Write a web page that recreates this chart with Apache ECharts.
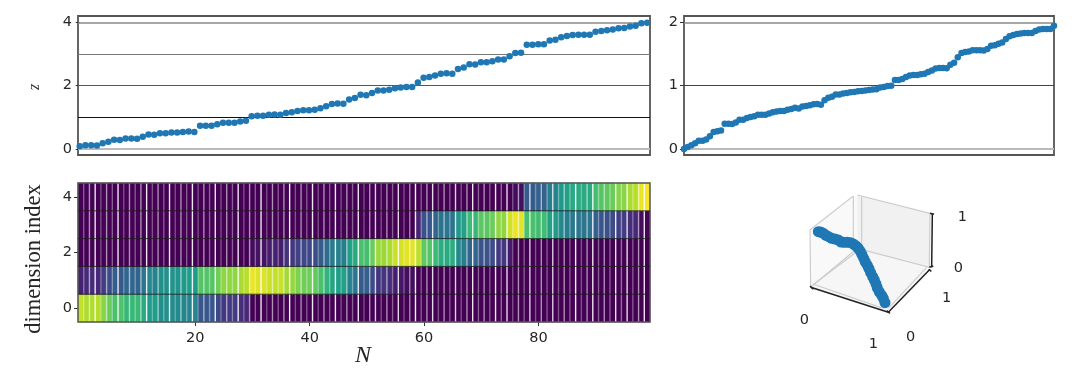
<!DOCTYPE html>
<html><head><meta charset="utf-8">
<style>html,body{margin:0;padding:0;background:#fff}#c{width:1080px;height:374px;filter:blur(0.4px)}</style>
<script src="https://cdn.jsdelivr.net/npm/echarts@6/dist/echarts.min.js"></script>
</head><body><div id="c"></div>
<script>
const zSorted=[.09,.12,.12,.11,.18,.23,.29,.28,.33,.33,.32,.39,.46,.45,.50,.50,.52,.52,.54,.55,.54,.73,.73,.73,.78,.83,.83,.83,.87,.89,
1.03,1.05,1.05,1.08,1.09,1.08,1.14,1.16,1.20,1.22,1.22,1.24,1.29,1.35,1.42,1.44,1.43,1.56,1.61,1.71,
1.70,1.77,1.85,1.85,1.87,1.92,1.94,1.96,1.96,2.10,2.25,2.27,2.32,2.38,2.39,2.38,2.53,2.57,2.68,2.67,
2.74,2.74,2.77,2.83,2.83,2.93,3.03,3.04,3.29,3.29,3.31,3.31,3.43,3.45,3.53,3.57,3.60,3.61,3.61,3.61,
3.70,3.73,3.75,3.77,3.81,3.82,3.87,3.89,3.97,3.99];
const zSecond=[0,.03,.06,.09,.13,.13,.15,.20,.27,.28,.29,.40,.40,.395,.42,.46,.46,.49,.505,.515,.54,.54,.54,.56,.58,.59,.60,.60,.62,.63,
.65,.64,.67,.68,.69,.705,.71,.70,.77,.81,.825,.86,.86,.875,.885,.895,.90,.91,.915,.925,.93,.94,.945,.97,.98,.995,1.0,1.09,1.09,1.105,
1.135,1.16,1.17,1.17,1.18,1.19,1.215,1.24,1.27,1.28,1.28,1.275,1.33,1.36,1.45,1.515,1.53,1.54,1.56,1.56,1.56,1.555,1.58,1.63,1.64,1.66,1.68,1.735,1.78,1.80,
1.815,1.825,1.83,1.83,1.83,1.865,1.885,1.895,1.895,1.895,1.945];
const levelsLeft=[0,1,2,3,4];
const levelsRight=[0,1,2];
const ticksLeft=[0,2,4];
const ticksRight=[0,1,2];
const dim0=[.91,.88,.88,.89,.82,.77,.71,.72,.67,.67,.68,.61,.54,.55,.50,.50,.48,.48,.46,.45,.46,.27,.27,.27,.22,.17,.17,.17,.13,.11,
0,0,0,0,0,0,0,0,0,0,0,0,0,0,0,0,0,0,0,0,0,0,0,0,0,0,0,0,0,0,0,0,0,0,0,0,0,0,0,0,
0,0,0,0,0,0,0,0,0,0,0,0,0,0,0,0,0,0,0,0,0,0,0,0,0,0,0,0,0,0];
const dim1=[.09,.12,.12,.11,.18,.23,.29,.28,.33,.33,.32,.39,.46,.45,.50,.50,.52,.52,.54,.55,.54,.73,.73,.73,.78,.83,.83,.83,.87,.89,
.97,.95,.95,.92,.91,.92,.86,.84,.80,.78,.78,.76,.71,.65,.58,.56,.57,.44,.39,.29,.30,.23,.15,.15,.13,.08,.06,.04,.04,
0,0,0,0,0,0,0,0,0,0,0,0,0,0,0,0,0,0,0,0,0,0,0,0,0,0,0,0,0,0,0,0,0,0,0,0,0,0,0,0,0];
const dim2=[0,0,0,0,0,0,0,0,0,0,0,0,0,0,0,0,0,0,0,0,0,0,0,0,0,0,0,0,0,0,
.03,.05,.05,.08,.09,.08,.14,.16,.20,.22,.22,.24,.29,.35,.42,.44,.43,.56,.61,.71,.70,.77,.85,.85,.87,.92,.94,.96,.96,
.90,.75,.73,.68,.62,.61,.62,.47,.43,.32,.33,.26,.26,.23,.17,.17,.07,
0,0,0,0,0,0,0,0,0,0,0,0,0,0,0,0,0,0,0,0,0,0,0,0];
const dim3=[0,0,0,0,0,0,0,0,0,0,0,0,0,0,0,0,0,0,0,0,0,0,0,0,0,0,0,0,0,0,0,0,0,0,0,0,0,0,0,0,0,0,0,0,0,0,0,0,0,0,0,0,0,0,0,0,0,0,0,
.10,.25,.27,.32,.38,.39,.38,.53,.57,.68,.67,.74,.74,.77,.83,.83,.93,.97,.96,
.71,.71,.69,.69,.57,.55,.47,.43,.40,.39,.39,.39,.30,.27,.25,.23,.19,.18,.13,.11,.03,.01];
const dim4=[0,0,0,0,0,0,0,0,0,0,0,0,0,0,0,0,0,0,0,0,0,0,0,0,0,0,0,0,0,0,0,0,0,0,0,0,0,0,0,0,0,0,0,0,0,0,0,0,0,0,0,0,0,0,0,0,0,0,0,0,0,0,0,0,0,0,0,0,0,0,0,0,0,0,0,0,
.03,.04,.29,.29,.31,.31,.43,.45,.53,.57,.60,.61,.61,.61,.70,.73,.75,.77,.81,.82,.87,.89,.97,.99];
const stripeAlpha=[.35,.55,.9,.3,.55,.35,.9,.3,.55,.35,.55,.9,.3,.55,.35,.9,.3,.55,.35,.9,
.3,.55,.35,.9,.3,.55,.35,.9,.3,.55,.35,.9,.3,.55,.35,.55,.95,.3,.55,.35,
.9,.3,.55,.35,.9,.3,.55,.35,.9,.3,.55,.8,.3,.55,.35,.85,.3,.5,.95,.35,
.55,.85,.3,.55,.35,.8,.3,.55,.9,.35,.55,.35,.9,.4,.85,.3,.55,.35,.8,.3,
.55,.35,.8,.3,.55,.35,.95,.3,.55,.9,.35,.55,.35,.9,.4,.85,.35,.55,.9];
const dims=[dim0,dim1,dim2,dim3,dim4];
const nLabels=Array.from({length:100},(_,i)=>String(i));
const dimLabels=['0','1','2','3','4'];
const viridis=['#440154','#482878','#3e4989','#31688e','#26828e','#1f9e89','#35b779','#6ece58','#b5de2b','#fde725'];
// 3D inset: projected positions (projection units)
const pathU=[145,152,160,168,176,185,195,205,213,222,232,242,250,258,265,271,276,281,286,292,297,302,308,313,318,322,328,335,340,345];
const pathV=[155,156,160,166,170,175,177,180,186,187,187,188,192,198,205,214,224,235,246,256,266,278,290,300,312,324,336,346,355,368];
const panes=[
 {c:'#f9f9f9',p:[[122,322],[262,205],[262,45],[120,150]]},
 {c:'#f1f1f1',p:[[262,205],[478,262],[480,100],[262,45]]},
 {c:'#f6f6f6',p:[[122,322],[355,397],[480,268],[262,205]]}];
const boxEdges=[[[120,150],[250,48]],[[262,45],[480,100]],[[120,150],[122,322]],[[250,48],[250,208]],[[275,50],[275,205]],
 [[262,205],[478,262]],[[122,322],[262,205]],[[132,312],[270,208]],[[340,385],[128,312]],[[355,385],[470,262]],[[480,100],[478,262]]];
const boxAxes=[[[122,322],[355,397]],[[355,397],[480,268]],[[485,262],[487,100]],[[120,318],[130,328]],[[350,392],[360,400]],[[476,268],[484,274]],[[480,100],[492,103]],[[478,262],[490,258]]];
const boxLabels=[['0',103,420],['1',310,492],['0',422,473],['1',530,355],['0',565,265],['1',577,113]];

const BLUE='#1f77b4',FONT='"DejaVu Sans"',TXT='#262626',FRAME='#555';
const lineStyles={l:{0:['#bbb',2],1:['#111',1],2:['#555',1],3:['#777',1],4:['#888',1.5]},r:{0:['#bbb',2],1:['#444',1],2:['#888',1.5]}};
function mark(levels,k){return {silent:true,symbol:'none',z:1,label:{show:false},animation:false,
 data:levels.map(v=>({yAxis:v,lineStyle:{type:'solid',color:lineStyles[k][v][0],width:lineStyles[k][v][1]}}))};}
function yAxisCommon(min,max,ticks,idx){return {type:'value',gridIndex:idx,min,max,
 axisLine:{show:false},splitLine:{show:false},
 axisTick:{show:true,length:4,lineStyle:{color:'#333'},customValues:ticks},
 axisLabel:{show:true,color:TXT,fontFamily:FONT,fontSize:14.5,margin:6,padding:[4,0,0,0],customValues:ticks}};}
const heat=[];dims.forEach((r,y)=>r.forEach((v,x)=>heat.push([x,y,v])));

const option={animation:false,backgroundColor:'#fff',
 grid:[
  {left:78,top:16,width:572,height:139,show:true,borderColor:FRAME,borderWidth:1.8,backgroundColor:'transparent'},
  {left:684,top:16,width:370,height:139,show:true,borderColor:FRAME,borderWidth:1.8,backgroundColor:'transparent'},
  {left:78,top:183,width:572,height:139},
  {left:770,top:180,width:220,height:194}],
 xAxis:[
  {type:'value',gridIndex:0,min:-0.3,max:99.5,show:false},
  {type:'value',gridIndex:1,min:0,max:100,show:false},
  {type:'category',gridIndex:2,data:nLabels,axisLine:{show:false},splitLine:{show:false},
   axisTick:{show:true,alignWithLabel:true,length:4,interval:i=>i>0&&i%20===0,lineStyle:{color:'#333'}},
   axisLabel:{color:TXT,fontFamily:FONT,fontSize:14.5,margin:9,interval:i=>i>0&&i%20===0}},
  {type:'value',gridIndex:3,min:0,max:660,show:false}],
 yAxis:[
  yAxisCommon(-0.19,4.2,ticksLeft,0),
  yAxisCommon(-0.095,2.1,ticksRight,1),
  {type:'category',gridIndex:2,data:dimLabels,axisLine:{show:false},splitLine:{show:false},
   axisTick:{show:true,alignWithLabel:true,length:4,interval:i=>i%2===0,lineStyle:{color:'#333'}},
   axisLabel:{color:TXT,fontFamily:FONT,fontSize:14.5,margin:6,padding:[2,0,0,0],interval:i=>i%2===0}},
  {type:'value',gridIndex:3,min:0,max:582,inverse:true,show:false}],
 visualMap:{show:false,min:0,max:1,seriesIndex:2,dimension:2,inRange:{color:viridis}},
 series:[
  {type:'scatter',xAxisIndex:0,yAxisIndex:0,symbolSize:6.5,clip:true,z:3,itemStyle:{color:BLUE,opacity:1},
   data:zSorted.map((v,i)=>[i,v]),markLine:mark(levelsLeft,'l')},
  {type:'scatter',xAxisIndex:1,yAxisIndex:1,symbolSize:6.5,clip:true,z:3,itemStyle:{color:BLUE,opacity:1},
   data:zSecond.map((v,i)=>[i,v]),markLine:mark(levelsRight,'r')},
  {type:'heatmap',xAxisIndex:2,yAxisIndex:2,data:heat,progressive:0,emphasis:{disabled:true},z:2},
  {type:'custom',xAxisIndex:2,yAxisIndex:2,z:4,silent:true,clip:false,
   encode:{x:0,y:1},data:stripeAlpha.map((a,i)=>[i,0,a]),
   renderItem(params,api){
     const cs=params.coordSys,x=api.coord([api.value(0),0])[0]+api.size([1,0])[0]/2;
     return {type:'line',shape:{x1:x,y1:cs.y,x2:x,y2:cs.y+cs.height},style:{stroke:'#fff',lineWidth:1.4,opacity:api.value(2)}};
   }},
  {type:'custom',xAxisIndex:2,yAxisIndex:2,z:5,silent:true,clip:false,
   encode:{x:0,y:1},data:[[0,0],[0,1],[0,2],[0,3]],
   renderItem(params,api){
     const cs=params.coordSys,y=api.coord([0,api.value(1)])[1]-api.size([0,1])[1]/2;
     const kids=[{type:'line',shape:{x1:cs.x,y1:y,x2:cs.x+cs.width,y2:y},style:{stroke:'#1a1a1a',lineWidth:1,opacity:.8}}];
     if(params.dataIndex===0)kids.push({type:'rect',shape:{x:cs.x,y:cs.y,width:cs.width,height:cs.height},style:{fill:'none',stroke:FRAME,lineWidth:1.5}});
     return {type:'group',children:kids};
   }},
  {type:'custom',xAxisIndex:3,yAxisIndex:3,z:1,silent:true,clip:false,encode:{x:0,y:1},
   data:panes.map((_,i)=>[i,i]),
   renderItem(params,api){const o=panes[params.dataIndex];
     return {type:'polygon',shape:{points:o.p.map(q=>api.coord(q))},style:{fill:o.c}};}},
  {type:'custom',xAxisIndex:3,yAxisIndex:3,z:2,silent:true,clip:false,encode:{x:0,y:1},
   data:boxEdges.map((_,i)=>[i,i]),
   renderItem(params,api){const s=boxEdges[params.dataIndex],a=api.coord(s[0]),b=api.coord(s[1]);
     return {type:'line',shape:{x1:a[0],y1:a[1],x2:b[0],y2:b[1]},style:{stroke:'#cdcdcd',lineWidth:1.2}};}},
  {type:'custom',xAxisIndex:3,yAxisIndex:3,z:2,silent:true,clip:false,encode:{x:0,y:1},
   data:boxAxes.map((_,i)=>[i,i]),
   renderItem(params,api){const s=boxAxes[params.dataIndex],a=api.coord(s[0]),b=api.coord(s[1]);
     return {type:'line',shape:{x1:a[0],y1:a[1],x2:b[0],y2:b[1]},style:{stroke:'#222',lineWidth:1.5}};}},
  {type:'custom',xAxisIndex:3,yAxisIndex:3,z:2,silent:true,clip:false,encode:{x:0,y:1},
   data:boxLabels.map((_,i)=>[i,i]),
   renderItem(params,api){const s=boxLabels[params.dataIndex],a=api.coord([s[1],s[2]]);
     return {type:'text',x:a[0],y:a[1],style:{text:s[0],fill:TXT,font:'14.5px '+FONT,align:'center',verticalAlign:'middle'}};}},
  {type:'scatter',xAxisIndex:3,yAxisIndex:3,symbolSize:11,z:3,clip:false,itemStyle:{color:BLUE,opacity:1},
   data:pathU.map((u,i)=>[u,pathV[i]])}
 ],
 graphic:[
  {type:'text',x:35,y:87,rotation:-Math.PI/2,style:{text:'z',fill:'#333',font:'italic 16px "Liberation Serif"',align:'center',verticalAlign:'middle'}},
  {type:'text',x:34,y:259,rotation:Math.PI/2,style:{text:'dimension index',fill:TXT,font:'22.5px "Liberation Serif"',align:'center',verticalAlign:'middle'}},
  {type:'text',x:363,y:356,style:{text:'N',fill:TXT,font:'italic 24px "Liberation Serif"',align:'center',verticalAlign:'middle'}}
 ]};
const chart=echarts.init(document.getElementById('c'),null,{renderer:'canvas'});
chart.setOption(option);
</script></body></html>
